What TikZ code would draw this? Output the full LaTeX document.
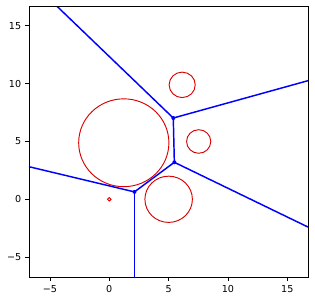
\documentclass[tikz,border=0pt]{standalone}
\usepackage{fontspec}
\setmainfont{DejaVu Sans}
\begin{document}
\begin{tikzpicture}[x=0.75pt,y=0.75pt,
  edge/.style={draw=blue,line width=1.1pt},
  vtx/.style={circle,fill=blue,inner sep=0pt,minimum size=3pt},
  disc/.style={draw=red!85!black,line width=0.7pt},
  tick/.style={draw=black,line width=0.6pt},
  lbl/.style={font=\fontsize{7.2}{8}\selectfont,inner sep=0pt}]
\useasboundingbox (0,0) rectangle (315,302);
\begin{scope}[shift={(109.3,102.7)},x=8.9025pt,y=8.67pt]
  % axes limits
  \coordinate (ll) at (-6.77,-6.78);
  \coordinate (ur) at (16.74,16.72);
  % circles
  \draw[disc] (0,0) circle [radius=0.15];
  \draw[disc] (1.22,4.89) circle [radius=3.8];
  \draw[disc] (5,0) circle [radius=2];
  \draw[disc] (7.53,5.0) circle [radius=1.02];
  \draw[disc] (6.14,9.9) circle [radius=1.1];
  % voronoi vertices
  \node[vtx] (A) at (2.12,0.64) {};
  \node[vtx] (B) at (5.48,3.20) {};
  \node[vtx] (C) at (5.39,7.03) {};
  % far ends on frame
  \coordinate (eL) at (-6.77,2.82);
  \coordinate (eD) at (2.12,-6.78);
  \coordinate (eR1) at (16.74,-2.40);
  \coordinate (eR2) at (16.74,10.26);
  \coordinate (eT) at (-4.43,16.72);
  \begin{scope}
    \clip (ll) rectangle (ur);
    \draw[edge] (A.center) -- (B.center);
    \draw[edge] (B.center) -- (C.center);
    \draw[edge] (A.center) -- (eL);
    \draw[edge] (A.center) -- (eD);
    \draw[edge] (B.center) -- (eR1);
    \draw[edge] (C.center) -- (eR2);
    \draw[edge] (C.center) -- (eT);
  \end{scope}
  % frame
  \draw[tick] (ll) rectangle (ur);
  % x ticks
  \foreach \v/\t in {-5/{−5},0/0,5/5,10/10,15/15}{
    \draw[tick] (\v,-6.78) -- ++(0,-0.3);
    \node[lbl,anchor=north] (xt\v) at (\v,-7.4) {\t};
  }
  % y ticks
  \foreach \v/\t in {-5/{−5},0/0,5/5,10/10,15/15}{
    \draw[tick] (-6.77,\v) -- ++(-0.3,0);
    \node[lbl,anchor=east] (yt\v) at (-7.4,\v) {\t};
  }
\end{scope}
\end{tikzpicture}
\end{document}
